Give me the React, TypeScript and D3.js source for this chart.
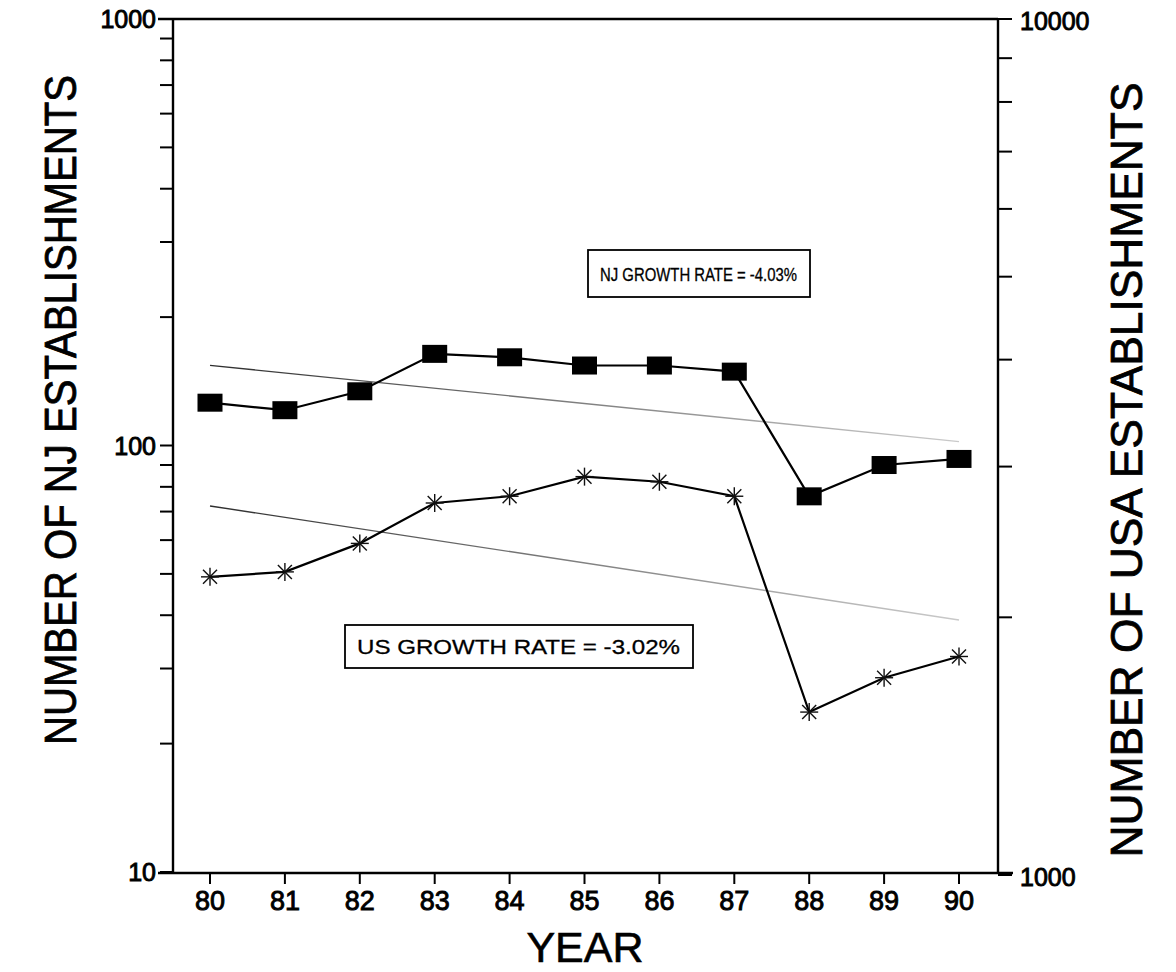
import React from "react";
import * as d3 from "d3";

// Establishment counts, 1980-1990
const years = [80, 81, 82, 83, 84, 85, 86, 87, 88, 89, 90];
const njValues = [126, 121, 134, 164, 161, 154, 154, 149, 76, 90, 93];
const usValues = [2230, 2260, 2440, 2720, 2770, 2920, 2880, 2770, 1550, 1700, 1800];

// Annual growth rates (percent) used for the fitted trend lines
const njRate = -4.03;
const usRate = -3.02;

const leftLabels = [10, 100, 1000];
const rightLabels = [1000, 10000];

const W = 1176;
const H = 972;
const FONT = "'Liberation Sans', Arial, Helvetica, sans-serif";

const x = d3.scaleLinear().domain([80, 90]).range([210, 959]);
const yLeft = d3.scaleLog().domain([10, 1000]).range([872, 19]);
const yRight = d3.scaleLog().domain([1000, 10000]).range([875, 19]);

const plotLeft = 173;
const plotRight = 998;
const plotTop = 19;
const plotBottom = 873;

function trendPoints(values: number[], rate: number) {
  const meanLog = d3.mean(values, (v) => Math.log10(v)) as number;
  const meanYear = d3.mean(years) as number;
  const slope = Math.log10(1 + rate / 100);
  return [years[0], years[years.length - 1]].map((yr) => ({
    year: yr,
    value: Math.pow(10, meanLog + slope * (yr - meanYear)),
  }));
}

function Asterisk({ cx, cy }: { cx: number; cy: number }) {
  const r = 9;
  const d = 7;
  return (
    <g stroke="#111" strokeWidth={1.4}>
      <line x1={cx} y1={cy - r} x2={cx} y2={cy + r} />
      <line x1={cx - r} y1={cy} x2={cx + r} y2={cy} />
      <line x1={cx - d} y1={cy - d} x2={cx + d} y2={cy + d} />
      <line x1={cx - d} y1={cy + d} x2={cx + d} y2={cy - d} />
    </g>
  );
}

export default function App() {
  const njLine = d3
    .line<number>()
    .x((_, i) => x(years[i]))
    .y((v) => yLeft(v))(njValues) as string;
  const usLine = d3
    .line<number>()
    .x((_, i) => x(years[i]))
    .y((v) => yRight(v))(usValues) as string;

  const njTrend = trendPoints(njValues, njRate);
  const usTrend = trendPoints(usValues, usRate);
  const trendPath = (pts: { year: number; value: number }[], sc: (v: number) => number) =>
    d3
      .line<{ year: number; value: number }>()
      .x((p) => x(p.year))
      .y((p) => sc(p.value))(pts) as string;

  const leftTicks = yLeft.ticks();
  const rightTicks = yRight.ticks();

  return (
    <svg
      width={W}
      height={H}
      style={{ position: "absolute", left: 0, top: 0, background: "#fff" }}
      fontFamily={FONT}
    >
      <defs>
        <linearGradient id="trendFade" gradientUnits="userSpaceOnUse" x1={210} y1={0} x2={960} y2={0}>
          <stop offset="0" stopColor="#222" stopOpacity={0.95} />
          <stop offset="0.55" stopColor="#555" stopOpacity={0.7} />
          <stop offset="1" stopColor="#888" stopOpacity={0.45} />
        </linearGradient>
      </defs>
      <rect x={0} y={0} width={W} height={H} fill="#fff" />

      {/* frame */}
      <g stroke="#000" strokeWidth={2.4} fill="none">
        <line x1={158} y1={plotTop} x2={plotRight} y2={plotTop} />
        <line x1={plotLeft} y1={plotTop} x2={plotLeft} y2={plotBottom} />
        <line x1={158} y1={plotBottom} x2={1013} y2={plotBottom} />
        <line x1={plotRight} y1={plotTop} x2={plotRight} y2={plotBottom} />
      </g>

      {/* log ticks on both value axes, year ticks below */}
      <g stroke="#000" strokeWidth={2}>
        {leftTicks.map((t) => (
          <line key={"l" + t} x1={160} x2={plotLeft} y1={yLeft(t)} y2={yLeft(t)} />
        ))}
        {rightTicks.map((t) => (
          <line key={"r" + t} x1={plotRight} x2={1012} y1={yRight(t)} y2={yRight(t)} />
        ))}
        {years.map((yr) => (
          <line key={"x" + yr} x1={x(yr)} x2={x(yr)} y1={plotBottom} y2={plotBottom + 11} />
        ))}
      </g>

      {/* tick labels */}
      <g fontSize={25} fill="#000" stroke="#000" strokeWidth={0.9}>
        {leftLabels.map((t) => (
          <text key={"ll" + t} x={156} y={yLeft(t)} textAnchor="end" dominantBaseline="central">
            {t}
          </text>
        ))}
        {rightLabels.map((t) => (
          <text key={"rl" + t} x={1020} y={yRight(t) + 2} textAnchor="start" dominantBaseline="central">
            {t}
          </text>
        ))}
      </g>
      <g fontSize={27} fill="#000" stroke="#000" strokeWidth={0.9}>
        {years.map((yr) => (
          <text key={"xl" + yr} x={x(yr)} y={910} textAnchor="middle">
            {yr}
          </text>
        ))}
      </g>

      {/* axis titles */}
      <text x={585} y={962} fontSize={43} textAnchor="middle" fill="#000" stroke="#000" strokeWidth={0.6}>
        YEAR
      </text>
      <text
        transform={`translate(76,410) rotate(-90)`}
        fontSize={45}
        textAnchor="middle"
        fill="#000"
        stroke="#000"
        strokeWidth={0.8}
        textLength={670}
        lengthAdjust="spacingAndGlyphs"
      >
        NUMBER OF NJ ESTABLISHMENTS
      </text>
      <text
        transform={`translate(1142,470) rotate(-90)`}
        fontSize={45}
        textAnchor="middle"
        fill="#000"
        stroke="#000"
        strokeWidth={0.8}
        textLength={775}
        lengthAdjust="spacingAndGlyphs"
      >
        NUMBER OF USA ESTABLISHMENTS
      </text>

      {/* trend lines */}
      <path d={trendPath(njTrend, yLeft)} stroke="url(#trendFade)" strokeWidth={1.4} fill="none" />
      <path d={trendPath(usTrend, yRight)} stroke="url(#trendFade)" strokeWidth={1.4} fill="none" />

      {/* series */}
      <path d={njLine} stroke="#000" strokeWidth={2.2} fill="none" />
      <path d={usLine} stroke="#000" strokeWidth={2.2} fill="none" />
      {njValues.map((v, i) => (
        <rect
          key={"nj" + i}
          x={x(years[i]) - 12.5}
          y={yLeft(v) - 9}
          width={25}
          height={18}
          fill="#000"
        />
      ))}
      {usValues.map((v, i) => (
        <Asterisk key={"us" + i} cx={x(years[i])} cy={yRight(v)} />
      ))}

      {/* growth rate boxes */}
      <rect x={588} y={250} width={222} height={47} fill="#fff" stroke="#000" strokeWidth={1.8} />
      <text
        x={600}
        y={281}
        fontSize={18}
        fill="#000"
        stroke="#000"
        strokeWidth={0.3}
        textLength={197}
        lengthAdjust="spacingAndGlyphs"
      >
        NJ GROWTH RATE = -4.03%
      </text>
      <rect x={345} y={625} width={348} height={43} fill="#fff" stroke="#000" strokeWidth={1.8} />
      <text
        x={357}
        y={654}
        fontSize={21}
        fill="#000"
        stroke="#000"
        strokeWidth={0.3}
        textLength={323}
        lengthAdjust="spacingAndGlyphs"
      >
        US GROWTH RATE = -3.02%
      </text>
    </svg>
  );
}
